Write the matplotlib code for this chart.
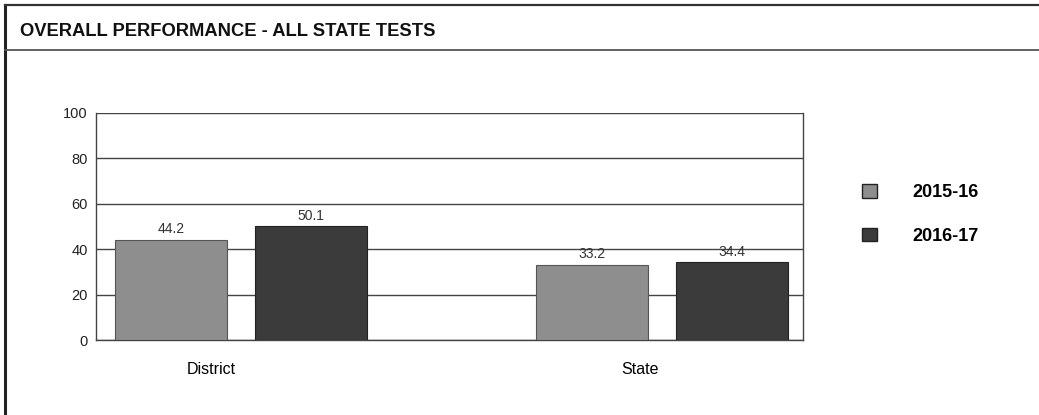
import numpy as np
import matplotlib.pyplot as plt
from matplotlib.lines import Line2D
from matplotlib.patches import Patch

plt.rcParams['font.family'] = ['Liberation Sans', 'DejaVu Sans']

# dane
kategorie = ['District', 'State']
lata = ['2015-16', '2016-17']
wyniki_2015 = [44.2, 33.2]
wyniki_2016 = [50.1, 34.4]
etykiety_y = [0, 20, 40, 60, 80, 100]
kolory = ['#8e8e8e', '#3b3b3b']

W, H = 1039, 415
fig = plt.figure(figsize=(W / 100, H / 100), dpi=100)

# ramka strony
fig.add_artist(Line2D([5 / W, 5 / W], [0, 1 - 5 / H], color='#222222', lw=2.2))
fig.add_artist(Line2D([5 / W, 1], [1 - 5 / H, 1 - 5 / H], color='#333333', lw=1.6))
fig.add_artist(Line2D([5 / W, 1], [1 - 50 / H, 1 - 50 / H], color='#555555', lw=1.3))
fig.text(20 / W, 1 - 31 / H, 'OVERALL PERFORMANCE - ALL STATE TESTS',
         fontsize=13.2, fontweight='bold', va='center', ha='left', color='#111111')

# osie
ax = fig.add_axes([96 / W, 1 - 340 / H, (803 - 96) / W, (340 - 113) / H])
x = np.arange(len(kategorie))
szer = 0.266
przes = 0.166
b1 = ax.bar(x - przes, wyniki_2015, szer, color=kolory[0], edgecolor='#555555', lw=0.8, zorder=3)
b2 = ax.bar(x + przes, wyniki_2016, szer, color=kolory[1], edgecolor='#222222', lw=0.8, zorder=3)
for bars in (b1, b2):
    for b in bars:
        ax.text(b.get_x() + b.get_width() / 2, b.get_height() + 1.5, f'{b.get_height():.1f}',
                ha='center', va='bottom', fontsize=10, color='#333333', zorder=4)

ax.set_xlim(-0.344, 1.335)
ax.set_ylim(0, 100)
ax.set_yticks(etykiety_y)
ax.yaxis.grid(True, color='#444444', lw=1.0, zorder=0)
ax.set_xticks([x[0] - 0.069, x[1] - 0.052])
ax.set_xticklabels(kategorie, fontsize=11.5)
ax.tick_params(axis='x', length=0, pad=16)
ax.tick_params(axis='y', length=0, pad=6, labelsize=10.5, labelcolor='#222222')
for s in ax.spines.values():
    s.set_color('#444444')
    s.set_linewidth(1.0)
ax.spines['top'].set_visible(False)

# legenda
uchwyty = [Patch(facecolor=kolory[0], edgecolor='#222222'),
           Patch(facecolor=kolory[1], edgecolor='#222222')]
fig.legend(uchwyty, lata, loc='upper left', bbox_to_anchor=(846 / W, 1 - 168 / H),
           frameon=False, handlelength=0.8, handleheight=0.8, labelspacing=1.45,
           handletextpad=2.0, prop={'weight': 'bold', 'size': 13})

fig.savefig('out.png', dpi=100)
